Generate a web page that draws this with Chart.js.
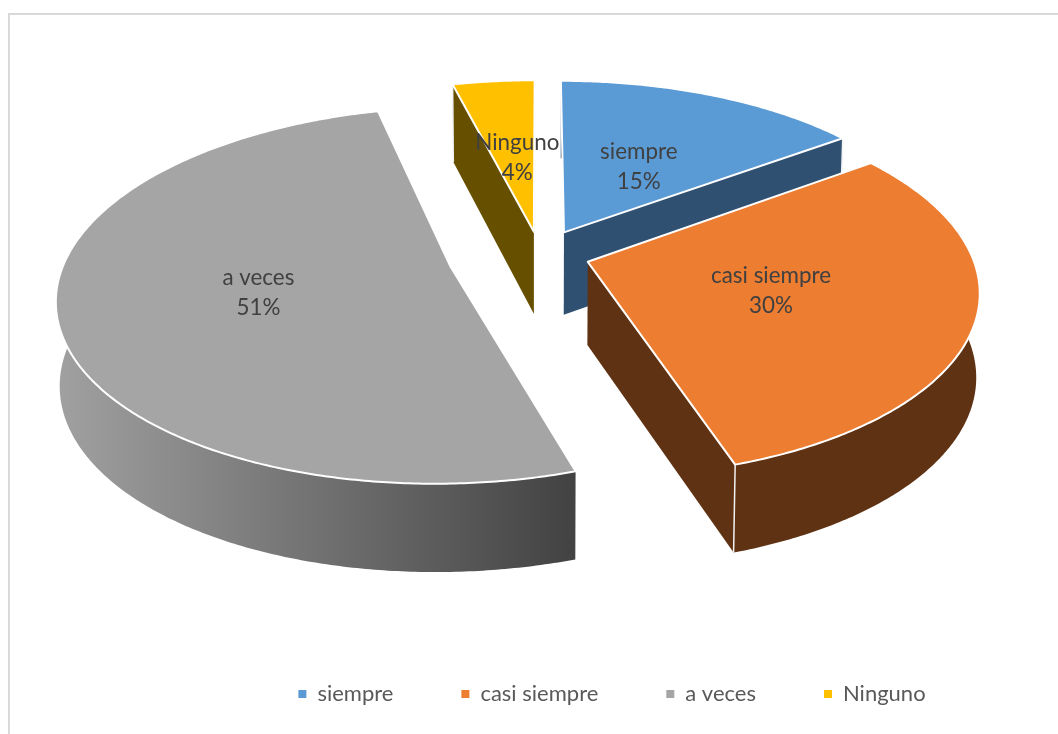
<!DOCTYPE html>
<html>
<head>
<meta charset="utf-8">
<title>Pie 3D</title>
<script src="https://cdn.jsdelivr.net/npm/chart.js@4/dist/chart.umd.min.js"></script>
<style>
  html, body { margin: 0; padding: 0; background: #fff; }
  #wrap { position: relative; width: 1058px; height: 734px; overflow: hidden; }
  #frame { position: absolute; left: 8px; top: 13px; right: -4px; bottom: -4px; border: 2px solid #d9d9d9; }
  canvas { position: absolute; left: 0; top: 0; }
</style>
</head>
<body>
<div id="wrap">
  <div id="frame"></div>
  <canvas id="pie" width="1058" height="734"></canvas>
</div>
<script>
/* data */
const categories = ["siempre", "casi siempre", "a veces", "Ninguno"];
const values = [15, 30, 51, 4];

/* styles */
const topColors = ["#5b9bd5", "#ed7d31", "#a5a5a5", "#ffc000"];
const wallColors = ["#2f5070", "#5f3213", null, "#665000"];
const explode = [14, 13, 24, 13]; // percent of the radius
const labelDx = [-4, -6, 0, 5];
const labelDy = [7, 0, 0, 6];

/* fake camera: the flat pie is tilted and given some perspective */
const RADIUS = 384, TILT = 0.47, PERSP = 0.15, DEPTH = 83;
const SHIFT_X = -72, SHIFT_Y = -53;

function project(cx, cy, X, Y, low) {
  const k = RADIUS / (1 - PERSP * Y);
  const shrink = low ? 0.992 : 1;
  return {
    x: cx + SHIFT_X + X * k * shrink,
    y: cy + SHIFT_Y + TILT * Y * k + (low ? DEPTH * (1 + 0.06 * Y) : 0),
  };
}

function edgePoints(arc, low) {
  const d = arc.options.offset / 100;
  const mid = (arc.startAngle + arc.endAngle) / 2;
  const ox = Math.cos(mid) * d, oy = Math.sin(mid) * d;
  const steps = Math.ceil((arc.endAngle - arc.startAngle) / 0.01);
  const pts = [];
  for (let i = 0; i <= steps; i++) {
    const a = arc.startAngle + (arc.endAngle - arc.startAngle) * i / steps;
    pts.push(project(arc.x, arc.y, ox + Math.cos(a), oy + Math.sin(a), low));
  }
  return { pts, apex: project(arc.x, arc.y, ox, oy, low) };
}

function fillPoly(ctx, pts, fill) {
  ctx.beginPath();
  pts.forEach((p, i) => (i ? ctx.lineTo(p.x, p.y) : ctx.moveTo(p.x, p.y)));
  ctx.closePath();
  ctx.fillStyle = fill;
  ctx.fill();
}

function seam(ctx, a, b) {
  ctx.beginPath();
  ctx.moveTo(a.x, a.y);
  ctx.lineTo(b.x, b.y);
  ctx.strokeStyle = "#f2f2f2";
  ctx.lineWidth = 1.5;
  ctx.stroke();
}

// arcs keep the angles Chart.js worked out, only the painting changes
Chart.ArcElement.prototype.draw = function (ctx) {
  const i = this.$context.dataIndex;
  const up = edgePoints(this, false);
  const low = edgePoints(this, true);
  let wall = wallColors[i];
  if (!wall) {
    wall = ctx.createLinearGradient(60, 0, 577, 0);
    wall.addColorStop(0, "#a0a0a0");
    wall.addColorStop(1, "#424242");
  }
  const last = up.pts.length - 1;

  // cut faces that look towards the viewer
  const startNormal = Math.sin(this.startAngle - Math.PI / 2);
  const endNormal = Math.sin(this.endAngle + Math.PI / 2);
  if (startNormal > 0.01) {
    fillPoly(ctx, [up.apex, up.pts[0], low.pts[0], low.apex], wall);
  }
  if (endNormal > 0.01) {
    fillPoly(ctx, [up.apex, up.pts[last], low.pts[last], low.apex], wall);
  }

  // outer rim
  fillPoly(ctx, up.pts.concat(low.pts.slice().reverse()), wall);
  if (startNormal > 0.01) seam(ctx, up.pts[0], low.pts[0]);
  if (endNormal > 0.01) seam(ctx, up.pts[last], low.pts[last]);

  // top face
  fillPoly(ctx, [up.apex].concat(up.pts), this.options.backgroundColor);
  ctx.strokeStyle = "#ffffff";
  ctx.lineWidth = 2;
  ctx.lineJoin = "round";
  ctx.stroke();
};

const sliceLabels = {
  id: "sliceLabels",
  afterDatasetsDraw(chart) {
    const ctx = chart.ctx;
    const total = values.reduce((s, v) => s + v, 0);
    ctx.save();
    ctx.font = "22.4px Lato";
    ctx.fillStyle = "#404040";
    ctx.textAlign = "center";
    ctx.textBaseline = "middle";
    chart.getDatasetMeta(0).data.forEach((arc, i) => {
      const mid = (arc.startAngle + arc.endAngle) / 2;
      const r = arc.options.offset / 100 + 0.5;
      const p = project(arc.x, arc.y, Math.cos(mid) * r, Math.sin(mid) * r, false);
      const pct = Math.round((values[i] / total) * 100) + "%";
      ctx.fillText(categories[i], p.x + labelDx[i], p.y + labelDy[i] - 15);
      ctx.fillText(pct, p.x + labelDx[i], p.y + labelDy[i] + 15);
    });
    ctx.restore();
  },
};

new Chart(document.getElementById("pie"), {
  type: "pie",
  data: {
    labels: categories,
    datasets: [
      {
        data: values,
        backgroundColor: topColors,
        offset: explode,
        borderWidth: 0,
      },
    ],
  },
  options: {
    responsive: false,
    animation: false,
    devicePixelRatio: 1,
    radius: RADIUS,
    layout: { padding: { left: 166, bottom: 19 } },
    plugins: {
      tooltip: { enabled: false },
      legend: {
        position: "bottom",
        labels: {
          boxWidth: 8,
          boxHeight: 8,
          padding: 68,
          color: "#595959",
          font: { family: "Lato", size: 22 },
        },
      },
    },
  },
  plugins: [sliceLabels],
});
</script>
</body>
</html>
